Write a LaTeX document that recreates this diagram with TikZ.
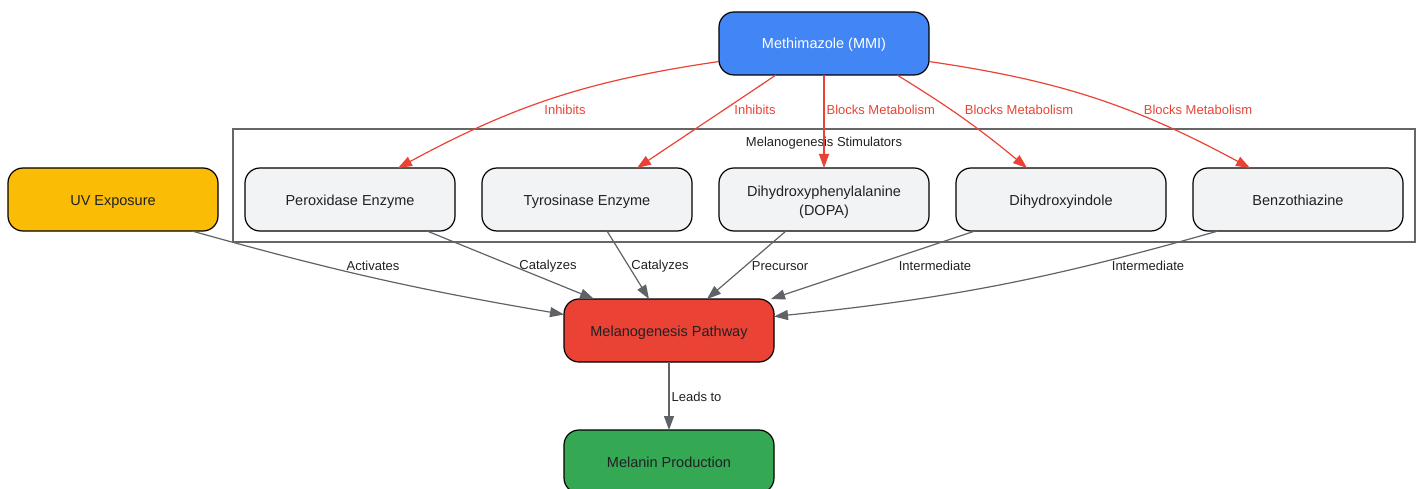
\documentclass[tikz,border=0pt]{standalone}
\usepackage{fontspec}
\setmainfont{Liberation Sans}
\usetikzlibrary{arrows.meta,positioning}

\definecolor{mmiblue}{HTML}{4285F4}
\definecolor{uvyellow}{HTML}{FBBC05}
\definecolor{pathred}{HTML}{EA4335}
\definecolor{melgreen}{HTML}{34A853}
\definecolor{stimgrey}{HTML}{F1F3F4}
\definecolor{edgegrey}{HTML}{5F6368}
\definecolor{clustergrey}{HTML}{666666}
\definecolor{nodetext}{HTML}{202124}

\begin{document}
\begin{tikzpicture}[
        x=1pt, y=-1pt,
        node distance=27pt,
        box/.style={rectangle, rounded corners=15pt, draw=black, line width=1.2pt, outer sep=0pt, align=center, minimum width=210pt, minimum height=63pt, fill=stimgrey, text=nodetext, font=\fontsize{14.5}{19}\selectfont},
        oneline/.style={box, text height=14pt, text depth=3pt},
        cluster/.style={rectangle, draw=clustergrey, line width=1.1pt, minimum width=1182pt, minimum height=113pt},
        lbl/.style={font=\fontsize{13}{15}\selectfont, inner sep=1pt, text=nodetext},
        redlbl/.style={lbl, text=pathred},
        redarrow/.style={-{Triangle[length=14pt,width=10pt]}, draw=pathred, line width=1.2pt},
        greyarrow/.style={-{Triangle[length=14pt,width=10pt]}, draw=edgegrey, line width=1.2pt}
    ]
        \useasboundingbox (0,0) rectangle (1420,489);

        % cluster of stimulators
        \node[cluster] (stim) at (824,185.5) {};
        \node[lbl] (stimlabel) at (824,143) {Melanogenesis Stimulators};

        \node[oneline] (per) at (350,199.5) {Peroxidase Enzyme};
        \node[oneline, right=of per] (tyr) {Tyrosinase Enzyme};
        \node[box, right=of tyr] (dopa) {\rule{0pt}{16pt}Dihydroxyphenylalanine\\(DOPA)};
        \node[oneline, right=of dopa] (dhi) {Dihydroxyindole};
        \node[oneline, right=of dhi] (bzt) {Benzothiazine};

        \node[oneline, left=of per, fill=uvyellow] (uv) {UV Exposure};
        \node[oneline, above=93pt of dopa, fill=mmiblue, text=white] (mmi) {Methimazole (MMI)};
        \node[oneline, fill=pathred] (path) at (669,330.5) {Melanogenesis Pathway};
        \node[oneline, below=68pt of path, fill=melgreen] (melanin) {Melanin Production};

        % methimazole effects
        \draw[redarrow] ([yshift=-18pt]mmi.west) to[bend right=10] ([xshift=48pt]per.north)
            node[redlbl] at (565,110) {Inhibits};
        \draw[redarrow] ([xshift=-48pt]mmi.south) -- ([xshift=50pt]tyr.north)
            node[redlbl] at (755,110) {Inhibits};
        \draw[redarrow] (mmi) -- (dopa)
            node[redlbl, anchor=west] at (825,110) {Blocks Metabolism};
        \draw[redarrow] ([xshift=73pt]mmi.south) to[bend left=4] ([xshift=-34pt]dhi.north)
            node[redlbl] at (1019,110) {Blocks Metabolism};
        \draw[redarrow] ([yshift=-18pt]mmi.east) to[bend left=10] ([xshift=-48pt]bzt.north)
            node[redlbl] at (1198,110) {Blocks Metabolism};

        % into the pathway
        \draw[greyarrow] ([xshift=79pt]uv.south) to[bend right=3] ([yshift=16pt]path.west)
            node[lbl] at (373,266) {Activates};
        \draw[greyarrow] ([xshift=77pt]per.south) -- ([xshift=-75pt]path.north)
            node[lbl] at (548,266) {Catalyzes};
        \draw[greyarrow] ([xshift=20pt]tyr.south) -- ([xshift=-20pt]path.north)
            node[lbl] at (660,266) {Catalyzes};
        \draw[greyarrow] ([xshift=-38pt]dopa.south) -- ([xshift=38pt]path.north)
            node[lbl] at (780,266) {Precursor};
        \draw[greyarrow] ([xshift=-86pt]dhi.south) -- ([xshift=-3pt]path.north east)
            node[lbl] at (935,266) {Intermediate};
        \draw[greyarrow] ([xshift=-80pt]bzt.south) to[bend left=5] ([yshift=14pt]path.east)
            node[lbl] at (1148,266) {Intermediate};

        \draw[greyarrow] (path) -- (melanin)
            node[lbl, anchor=west] at (670,397) {Leads to};
    \end{tikzpicture}
\end{document}
